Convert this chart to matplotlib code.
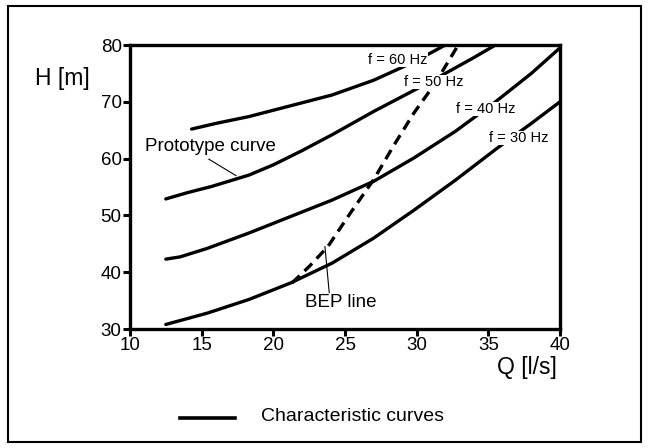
import matplotlib
matplotlib.use("Agg")
import matplotlib.pyplot as plt
from matplotlib.patches import Rectangle
from matplotlib.lines import Line2D

plt.rcParams['font.family'] = ['Liberation Sans', 'DejaVu Sans']

# characteristic curves (Q [l/s], H [m])
q30 = [12.5, 15.4, 18.3, 21.2, 24.1, 27.0, 29.8, 32.7, 35.6, 38.0, 40.0]
h30 = [30.8, 32.8, 35.2, 38.1, 41.6, 46.0, 50.9, 56.2, 61.8, 66.2, 70.0]
q40 = [12.5, 13.5, 15.4, 18.3, 21.2, 24.1, 27.0, 29.8, 32.7, 35.5, 38.0, 40.0]
h40 = [42.3, 42.7, 44.2, 46.9, 49.8, 52.7, 56.0, 60.1, 64.8, 70.0, 75.0, 79.5]
q50 = [12.5, 14.0, 15.7, 18.3, 20.0, 22.0, 24.1, 27.0, 29.8, 32.0, 34.0, 35.5]
h50 = [52.9, 54.0, 55.1, 57.1, 58.9, 61.4, 64.2, 68.3, 72.0, 75.0, 77.8, 80.0]
q60 = [14.3, 16.0, 18.3, 21.2, 24.1, 27.0, 29.1, 30.9, 32.0]
h60 = [65.2, 66.2, 67.4, 69.3, 71.2, 73.8, 76.2, 78.5, 80.0]
# BEP line
qbep = [21.3, 22.5, 23.8, 25.4, 27.0, 28.4, 29.8, 31.3, 32.9]
hbep = [38.1, 41.0, 44.5, 50.5, 56.3, 62.3, 68.0, 73.3, 80.0]

xticks = [10, 15, 20, 25, 30, 35, 40]
yticks = [30, 40, 50, 60, 70, 80]
freq_labels = ["f = 30 Hz", "f = 40 Hz", "f = 50 Hz", "f = 60 Hz"]
freq_pos = [(37.1, 63.6), (34.8, 68.7), (31.2, 73.5), (28.7, 77.4)]

W, H = 649, 448
fig = plt.figure(figsize=(W / 100, H / 100), dpi=100)
fig.patches.append(Rectangle((8 / W, 6 / H), (641 - 8) / W, (442 - 6) / H,
                             transform=fig.transFigure, fill=False,
                             lw=1.5, ec='black'))

ax = fig.add_axes([130 / W, (H - 329) / H, (560 - 130) / W, (329 - 45) / H])
lw = 2.4
for q, h in [(q30, h30), (q40, h40), (q50, h50), (q60, h60)]:
    ax.plot(q, h, color='black', lw=lw, solid_capstyle='round', zorder=3)
ax.plot(qbep, hbep, color='black', lw=lw, dashes=(3.2, 2.0), zorder=3)

for lab, (x, y) in zip(freq_labels, freq_pos):
    ax.text(x, y, lab, fontsize=10.5, ha='center', va='center', zorder=5,
            bbox=dict(facecolor='white', edgecolor='none', pad=0.2))

ax.text(11.05, 62.1, "Prototype curve", fontsize=13.5, ha='left', va='center')
ax.plot([15.5, 17.4], [59.9, 57.0], color='black', lw=0.8)
ax.text(22.2, 34.6, "BEP line", fontsize=13.5, ha='left', va='center')
ax.plot([23.6, 23.9], [44.5, 36.4], color='black', lw=0.8)

ax.set_xlim(10, 40)
ax.set_ylim(30, 80)
ax.set_xticks(xticks)
ax.set_yticks(yticks)
ax.tick_params(direction='out', length=5, width=2.2, labelsize=13.5, pad=1)
for s in ax.spines.values():
    s.set_linewidth(2.4)

fig.text(35 / W, 1 - 78 / H, "H [m]", fontsize=16.5, ha='left', va='center')
fig.text(557 / W, 1 - 367 / H, "Q [l/s]", fontsize=16.5, ha='right', va='center')

fig.lines.append(Line2D([180 / W, 235 / W], [1 - 418 / H, 1 - 418 / H],
                        transform=fig.transFigure, color='black', lw=2.6))
fig.text(261 / W, 1 - 416 / H, "Characteristic curves", fontsize=14,
         ha='left', va='center')

fig.savefig("out.png", dpi=100)
